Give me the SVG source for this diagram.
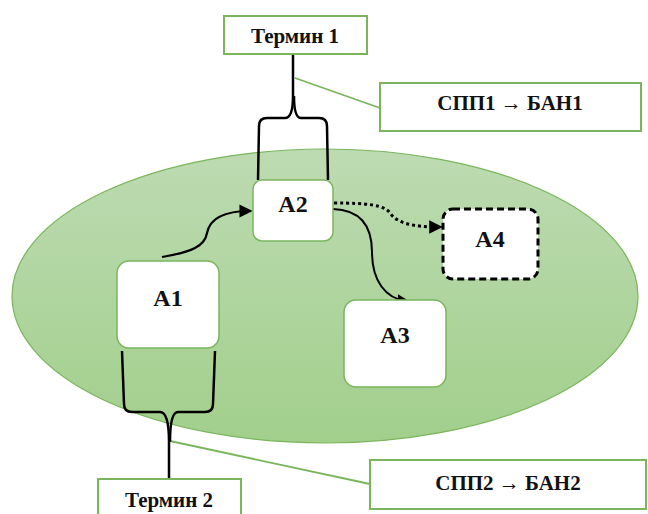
<svg xmlns="http://www.w3.org/2000/svg" width="648" height="514" viewBox="0 0 648 514">
<defs>
<linearGradient id="eg" x1="0" y1="0" x2="0" y2="1">
<stop offset="0" stop-color="#bddbb2"/>
<stop offset="1" stop-color="#a2cf8c"/>
</linearGradient>
<marker id="ah" viewBox="0 0 10 10" refX="8" refY="5" markerWidth="6" markerHeight="6" orient="auto" markerUnits="strokeWidth">
<path d="M0,0 L10,5 L0,10 z" fill="#000"/>
</marker>
<marker id="ah2" viewBox="0 0 10 10" refX="8" refY="5" markerWidth="4.5" markerHeight="4.5" orient="auto" markerUnits="strokeWidth">
<path d="M0,0 L10,5 L0,10 z" fill="#000"/>
</marker>
</defs>
<style>
.lbl{font-family:"Liberation Serif","DejaVu Serif",serif;font-weight:bold;fill:#111;text-anchor:middle}
.t{font-size:21px}
.a{font-size:24px}
.tb{fill:#fff;stroke:#7ab55c;stroke-width:2}
.nd{fill:#fff;stroke:#7ab55c;stroke-width:1.5}
.br{fill:none;stroke:#000;stroke-width:2.5}
.cl{fill:none;stroke:#7ab55c;stroke-width:1.8}
</style>
<g id="region">
<ellipse cx="325" cy="296" rx="313" ry="147" fill="url(#eg)" stroke="#7ab55c" stroke-width="1.2"/>
</g>
<g id="connectors">
<line class="cl" x1="295" y1="78" x2="380" y2="108"/>
<line class="cl" x1="170" y1="441" x2="370" y2="484"/>
<path class="br" d="M258,180 L259,126 Q259,118 267,118 L285,118 Q293,118 293,96 L293,55"/>
<path class="br" d="M328,180 L327,126 Q327,118 319,118 L301,118 Q294,118 294,96"/>
<path class="br" d="M122,351 L124,404 Q124,412 132,412 L160,412 Q169,412 169,442 L169,479"/>
<path class="br" d="M215,351 L213,404 Q213,412 205,412 L178,412 Q170,412 170,442"/>
<path fill="none" stroke="#000" stroke-width="2.2" marker-end="url(#ah)" d="M162,257 C192,252 205,246 207,233 C210,218 226,211 250,211"/>
<path fill="none" stroke="#000" stroke-width="2" marker-end="url(#ah)" d="M333,209 C362,210 372,228 372,252 C372,280 385,299 407,301"/>
<path fill="none" stroke="#000" stroke-width="3" stroke-dasharray="3,3" marker-end="url(#ah2)" d="M334,203 C368,203 384,205 390,213 C397,223 412,227 440,227"/>
</g>
<g id="termin1">
<rect class="tb" x="224" y="16" width="143" height="38"/>
<text class="lbl t" x="295" y="43">Термин 1</text>
</g>
<g id="spp1">
<rect class="tb" x="380" y="83" width="261" height="48"/>
<text class="lbl t" x="510" y="110">СПП1 → БАН1</text>
</g>
<g id="spp2">
<rect class="tb" x="370" y="460" width="276" height="49"/>
<text class="lbl t" x="508" y="490">СПП2 → БАН2</text>
</g>
<g id="termin2">
<rect class="tb" x="98" y="479" width="143" height="40"/>
<text class="lbl t" x="169" y="507">Термин 2</text>
</g>
<g id="A2">
<rect class="nd" x="253" y="180" width="80" height="61" rx="9"/>
<text class="lbl a" x="293" y="212">А2</text>
</g>
<g id="A1">
<rect class="nd" x="117" y="261" width="102" height="87" rx="12"/>
<text class="lbl a" x="168" y="306">А1</text>
</g>
<g id="A3">
<rect class="nd" x="344" y="300" width="102" height="87" rx="12"/>
<text class="lbl a" x="395" y="343">А3</text>
</g>
<g id="A4">
<rect x="443" y="209" width="95" height="70" rx="10" fill="#fff" stroke="#000" stroke-width="3" stroke-dasharray="7,4"/>
<text class="lbl a" x="490" y="247">А4</text>
</g>
</svg>
